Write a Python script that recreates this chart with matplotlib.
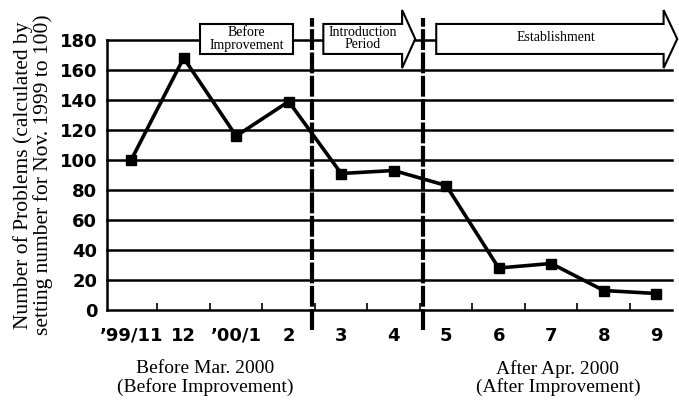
import matplotlib
matplotlib.use("Agg")
import matplotlib.pyplot as plt
from matplotlib.patches import Polygon, Rectangle

months = ["\u201999/11", "12", "\u201900/1", "2", "3", "4", "5", "6", "7", "8", "9"]
problems = [100, 168, 116, 139, 91, 93, 83, 28, 31, 13, 11]
yticks = [0, 20, 40, 60, 80, 100, 120, 140, 160, 180]
phase_labels = ["Before\nImprovement", "Introduction\nPeriod", "Establishment"]
period_labels = ["Before Mar. 2000\n(Before Improvement)", "After Apr. 2000\n(After Improvement)"]
ylabel = "Number of Problems (calculated by\nsetting number for Nov. 1999 to 100)"

fig = plt.figure(figsize=(6.79, 4.01), dpi=100)
ax = fig.add_axes([107/679, 1-310/401, (672-107)/679, 270/401])
x = list(range(len(months)))
ax.set_xlim(-0.46, 10.3)
ax.set_ylim(0, 180)

for v in yticks[1:]:
    ax.axhline(v, color="black", lw=1.8, zorder=1, clip_on=False)
ax.plot(x, problems, color="black", lw=2.6, marker="s", ms=7, zorder=3)

for s in ["top", "right"]:
    ax.spines[s].set_visible(False)
ax.spines["left"].set_linewidth(1.8)
ax.spines["bottom"].set_linewidth(1.8)
ax.set_yticks(yticks)
ax.set_yticklabels([str(v) for v in yticks], fontsize=13, fontweight="bold", family="DejaVu Sans")
ax.tick_params(axis="y", length=0, pad=7)
ax.set_xticks(x)
ax.set_xticklabels(months, fontsize=13, fontweight="bold", family="DejaVu Sans")
ax.tick_params(axis="x", length=0, pad=12)
ax.set_xticks([i + 0.5 for i in range(len(months) - 1)], minor=True)
ax.tick_params(axis="x", which="minor", length=5, width=1.2, direction="in")

ax.set_ylabel(ylabel, family="Liberation Serif", fontsize=15.5, linespacing=1.0)
ax.yaxis.set_label_coords(-0.095, 0.5)

# phase separators
for xv in [3.45, 5.55]:
    ax.plot([xv, xv], [-13, 195], color="black", lw=3, ls=(0, (5, 0.6)), clip_on=False, zorder=4)

# phase boxes / arrows
def arrow_poly(x0, xb, xt, yb0, yb1, yh0, yh1):
    ym = (yb0 + yb1) / 2
    return [(x0, yb0), (xb, yb0), (xb, yh0), (xt, ym), (xb, yh1), (xb, yb1), (x0, yb1)]

ax.add_patch(Rectangle((1.31, 170.7), 3.09 - 1.31, 20, facecolor="white", edgecolor="black",
                       lw=1.5, clip_on=False, zorder=5))
ax.text((1.31 + 3.09) / 2, 180.7, phase_labels[0], ha="center", va="center",
        family="Liberation Serif", fontsize=10, linespacing=0.95, zorder=6)
ax.add_patch(Polygon(arrow_poly(3.66, 5.16, 5.41, 170.7, 190.7, 161.3, 200), closed=True,
                     facecolor="white", edgecolor="black", lw=1.5, clip_on=False, zorder=5))
ax.text((3.66 + 5.16) / 2, 181.0, phase_labels[1], ha="center", va="center",
        family="Liberation Serif", fontsize=10, linespacing=0.95, zorder=6)
ax.add_patch(Polygon(arrow_poly(5.81, 10.14, 10.4, 170.7, 190.7, 161.3, 200), closed=True,
                     facecolor="white", edgecolor="black", lw=1.5, clip_on=False, zorder=5))
ax.text(8.08, 181.5, phase_labels[2], ha="center", va="center",
        family="Liberation Serif", fontsize=10, zorder=6)

fig.text(205/679, 1-378/401, period_labels[0], ha="center", va="center",
         family="Liberation Serif", fontsize=14, linespacing=1.05)
fig.text(558/679, 1-378/401, period_labels[1], ha="center", va="center",
         family="Liberation Serif", fontsize=14, linespacing=1.05)

fig.savefig("out.png", dpi=100)
